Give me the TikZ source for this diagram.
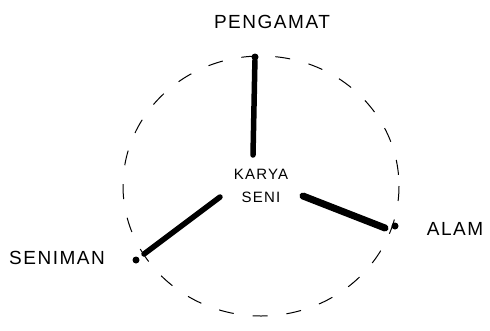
\documentclass[tikz,border=0pt]{standalone}
\usepackage{fontspec}
\newfontfamily\hand[LetterSpace=8]{Liberation Sans}
\begin{document}
\begin{tikzpicture}[x=1pt,y=-1pt,
  lbl/.style={font=\hand\fontsize{19}{20}\selectfont, inner sep=0pt},
  ctr/.style={font=\hand\fontsize{15}{23}\selectfont, inner sep=0pt, align=center},
  spoke/.style={line width=5.5pt, line cap=round},
  dot/.style={circle, fill=black, inner sep=0pt, minimum size=7pt},
  ring/.style={line width=1pt, dash pattern=on 15pt off 19pt}]
\useasboundingbox (0,0) rectangle (490,330);
\draw[ring] (261,186) ellipse [x radius=138, y radius=130];
\node[ctr] (karya) at (261,186) {KARYA\\SENI};
\node[dot] (p) at (255,57) {};
\node[dot] (s) at (136,260) {};
\node[dot] (a) at (395,226) {};
\coordinate (kt) at (253,155);
\coordinate (kl) at (220,197);
\coordinate (kr) at (303,196);
\draw[spoke] (kt) -- (p);
\draw[spoke] (kl) -- ([shift={(8,-6)}]s.center);
\draw[spoke, line width=7pt] (kr) -- ([shift={(-10,2)}]a.center);
\node[lbl] (lp) at (272,22) {PENGAMAT};
\node[lbl] (ls) at (57,258) {SENIMAN};
\node[lbl] (la) at (455,229) {ALAM};
\end{tikzpicture}
\end{document}
